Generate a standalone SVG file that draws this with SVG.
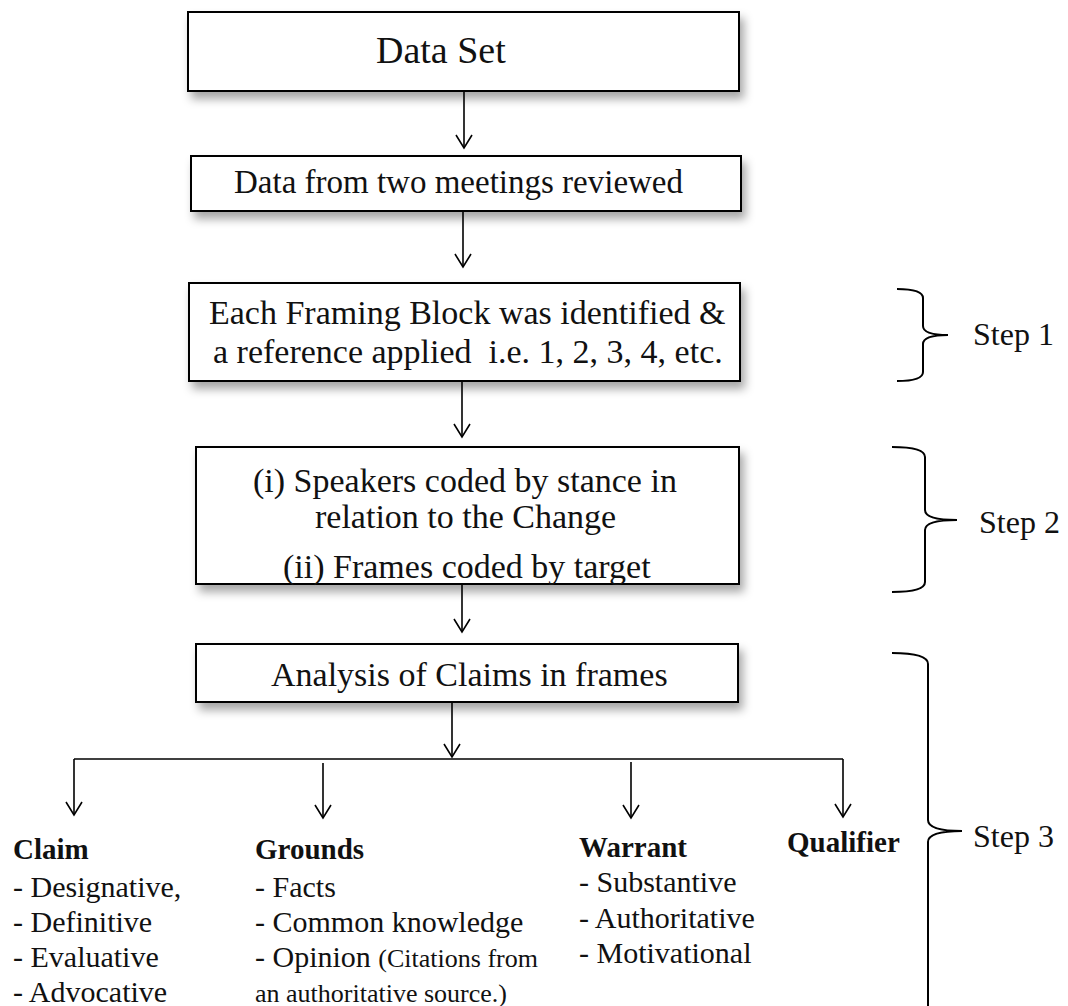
<svg xmlns="http://www.w3.org/2000/svg" width="1068" height="1006" viewBox="0 0 1068 1006">
  <defs>
    <filter id="shadow" x="-10%" y="-20%" width="125%" height="160%">
      <feDropShadow dx="4" dy="7" stdDeviation="5" flood-color="#000" flood-opacity="0.35"/>
    </filter>
    <marker id="arrow" viewBox="-15 -10 17 20" refX="0" refY="0" markerWidth="17" markerHeight="20" markerUnits="userSpaceOnUse" orient="auto">
      <path d="M-13,-8 L0,0 L-13,8" fill="none" stroke="#000" stroke-width="1.6"/>
    </marker>
  </defs>
  <style>
    .box { fill: #fff; stroke: #000; stroke-width: 2; filter: url(#shadow); }
    .t { font-family: "Liberation Serif", "Times New Roman", serif; fill: #111; white-space: pre; }
    .b { font-weight: bold; font-size: 29px; }
    .item { font-size: 30px; }
    .small { font-size: 26px; }
    .step { font-size: 32px; }
    .conn { fill: none; stroke: #000; stroke-width: 1.6; }
    .brace { fill: none; stroke: #000; stroke-width: 2; }
  </style>

  <rect width="1068" height="1006" fill="#fff"/>

  <!-- process boxes -->
  <g id="data-set">
    <rect class="box" x="188" y="12" width="551" height="79"/>
    <text class="t" x="376" y="63" font-size="38">Data Set</text>
  </g>
  <g id="meetings-reviewed">
    <rect class="box" x="191" y="156" width="550" height="55"/>
    <text class="t" x="234" y="193" font-size="33">Data from two meetings reviewed</text>
  </g>
  <g id="framing-blocks">
    <rect class="box" x="189" y="283" width="551" height="98"/>
    <text class="t" x="209" y="324" font-size="34">Each Framing Block was identified &amp;</text>
    <text class="t" x="213" y="363" font-size="34">a reference applied  i.e. 1, 2, 3, 4, etc.</text>
  </g>
  <g id="coding">
    <rect class="box" x="196" y="447" width="543" height="137"/>
    <text class="t" x="253" y="492" font-size="34">(i) Speakers coded by stance in</text>
    <text class="t" x="315" y="528" font-size="34">relation to the Change</text>
    <text class="t" x="283" y="578" font-size="34">(ii) Frames coded by target</text>
  </g>
  <g id="claims-analysis">
    <rect class="box" x="196" y="644" width="542" height="58"/>
    <text class="t" x="271" y="686" font-size="34">Analysis of Claims in frames</text>
  </g>

  <!-- connectors -->
  <g id="connectors">
    <line class="conn" x1="464" y1="92" x2="464" y2="148" marker-end="url(#arrow)"/>
    <line class="conn" x1="463" y1="212" x2="463" y2="267" marker-end="url(#arrow)"/>
    <line class="conn" x1="462" y1="382" x2="462" y2="437" marker-end="url(#arrow)"/>
    <line class="conn" x1="462" y1="585" x2="462" y2="632" marker-end="url(#arrow)"/>
    <line class="conn" x1="452" y1="703" x2="452" y2="757" marker-end="url(#arrow)"/>
    <path class="conn" d="M74,759 L843,759"/>
    <line class="conn" x1="74" y1="759" x2="74" y2="815" marker-end="url(#arrow)"/>
    <line class="conn" x1="323" y1="763" x2="323" y2="818" marker-end="url(#arrow)"/>
    <line class="conn" x1="631" y1="762" x2="631" y2="818" marker-end="url(#arrow)"/>
    <line class="conn" x1="843" y1="759" x2="843" y2="817" marker-end="url(#arrow)"/>
  </g>

  <!-- argument elements -->
  <g id="claim">
    <text class="t b" x="13" y="859">Claim</text>
    <text class="t item" x="13" y="897">- Designative,</text>
    <text class="t item" x="13" y="932">- Definitive</text>
    <text class="t item" x="13" y="967">- Evaluative</text>
    <text class="t item" x="13" y="1002">- Advocative</text>
  </g>
  <g id="grounds">
    <text class="t b" x="255" y="859">Grounds</text>
    <text class="t item" x="255" y="897">- Facts</text>
    <text class="t item" x="255" y="932">- Common knowledge</text>
    <text class="t item" x="255" y="967">- Opinion <tspan class="small">(Citations from</tspan></text>
    <text class="t small" x="255" y="1002">an authoritative source.)</text>
  </g>
  <g id="warrant">
    <text class="t b" x="579" y="857">Warrant</text>
    <text class="t item" x="579" y="892">- Substantive</text>
    <text class="t item" x="579" y="928">- Authoritative</text>
    <text class="t item" x="579" y="963">- Motivational</text>
  </g>
  <g id="qualifier">
    <text class="t b" x="787" y="852">Qualifier</text>
  </g>

  <!-- step braces -->
  <g id="step-1">
    <path class="brace" d="M897,289 Q923,289 923,298 L923,326 Q923,335 948,335 M948,335 Q923,335 923,344 L923,372 Q923,381 897,381"/>
    <text class="t step" x="973" y="345">Step 1</text>
  </g>
  <g id="step-2">
    <path class="brace" d="M892,447 Q925,447 925,457 L925,510 Q925,520 957,520 M957,520 Q925,520 925,530 L925,582 Q925,592 892,592"/>
    <text class="t step" x="979" y="533">Step 2</text>
  </g>
  <g id="step-3">
    <path class="brace" d="M892,653 Q928,653 928,664 L928,820 Q928,831 962,831 M962,831 Q928,831 928,842 L928,1010"/>
    <text class="t step" x="973" y="847">Step 3</text>
  </g>
</svg>
